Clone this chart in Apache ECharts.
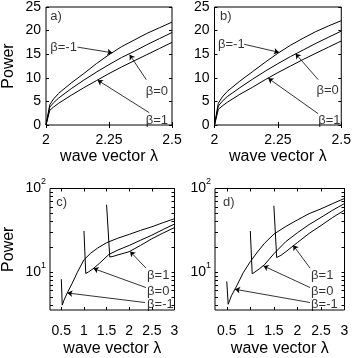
<!DOCTYPE html>
<html>
<head>
<meta charset="utf-8">
<script src="https://cdn.jsdelivr.net/npm/echarts@6/dist/echarts.min.js"></script>
<style>
html, body { margin: 0; padding: 0; background: #fff; }
#chart { width: 354px; height: 358px; }
</style>
</head>
<body>
<div id="chart"></div>
<script>
var FONT = '"Liberation Sans", Arial, Helvetica, sans-serif';

// panels a) and b): linear power vs wave vector
var lamAB = [2, 2.015, 2.03, 2.05, 2.1, 2.15, 2.2, 2.25, 2.3, 2.35, 2.4, 2.45, 2.5];
var powA_m1 = [0, 4.3, 5.5, 6.7, 8.9, 10.9, 13.0, 14.9, 16.6, 18.0, 19.4, 20.6, 21.8];
var powA_0  = [0, 3.8, 4.7, 5.7, 7.7, 9.5, 11.2, 12.8, 14.3, 15.6, 17.0, 18.3, 19.6];
var powA_1  = [0, 3.1, 3.8, 4.6, 6.3, 7.9, 9.4, 10.9, 12.3, 13.6, 14.9, 16.2, 17.5];
var powB_m1 = [0, 4.6, 5.9, 7.1, 9.3, 11.3, 13.3, 15.2, 16.9, 18.4, 19.8, 21.0, 22.1];
var powB_0  = [0, 4.0, 5.0, 6.0, 7.9, 9.7, 11.4, 13.0, 14.5, 15.9, 17.3, 18.6, 19.9];
var powB_1  = [0, 3.3, 4.0, 4.8, 6.5, 8.0, 9.6, 11.1, 12.5, 13.9, 15.2, 16.5, 17.8];

// panel c): log power
var lamC_m1 = [0.5, 0.52, 0.56, 0.63, 0.74, 0.85, 1.0, 1.15, 1.3, 1.5, 1.75, 2.0, 2.25, 2.5, 2.75, 3.0];
var powC_m1 = [8.2, 4.0, 4.6, 5.6, 7.3, 9.8, 14.0, 16.8, 19.3, 22.4, 25.4, 28.2, 31.5, 34.8, 39.0, 43.5];
var lamC_0 = [1.0, 1.04, 1.1, 1.2, 1.35, 1.55, 1.75, 2.0, 2.25, 2.5, 2.75, 3.0];
var powC_0 = [31, 9.6, 10.0, 10.9, 12.8, 16.2, 18.3, 20.8, 24.0, 27.6, 32.3, 37.5];
var lamC_1 = [1.5, 1.57, 1.65, 1.75, 2.0, 2.25, 2.5, 2.75, 3.0];
var powC_1 = [64, 15.1, 15.4, 16.0, 17.5, 20.8, 25.0, 29.3, 34.0];

// panel d): log power
var lamD_m1 = [0.5, 0.53, 0.6, 0.71, 0.85, 1.0, 1.15, 1.3, 1.5, 1.75, 2.0, 2.25, 2.5, 2.75, 3.0];
var powD_m1 = [7.7, 4.1, 5.2, 6.8, 9.8, 13.3, 17.3, 22.0, 28.4, 35.0, 42.0, 50.0, 57.0, 66.0, 76.0];
var lamD_0 = [1.0, 1.04, 1.1, 1.2, 1.3, 1.5, 1.75, 2.0, 2.25, 2.5, 2.75, 3.0];
var powD_0 = [31, 9.5, 10.0, 11.0, 12.2, 16.5, 23.0, 29.5, 37.0, 45.0, 55.0, 66.0];
var lamD_1 = [1.5, 1.56, 1.65, 1.75, 2.0, 2.25, 2.5, 2.75, 3.0];
var powD_1 = [62, 14.9, 15.8, 17.4, 22.5, 29.0, 36.0, 45.0, 55.0];

// axis ticks
var ticksLamCD = [0.5, 1, 1.5, 2, 2.5, 3];
var ticksLogMinor = [4, 5, 6, 7, 8, 9, 10, 20, 30, 40, 50, 60, 70, 80, 90, 100];
var ticksLogMajor = [10, 100];

// annotations: text labels [text, x, y] and arrows [[x1, y1], [x2, y2]]
var labelsA = [['a)', 2.017, 22.9], ['β=-1', 2.017, 16.5], ['β=0', 2.396, 7.1], ['β=1', 2.396, 1.0]];
var arrowsA = [[[2.125, 16.5], [2.263, 15.3]], [[2.398, 9.6], [2.332, 14.9]], [[2.41, 2.6], [2.205, 9.5]]];
var labelsB = [['b)', 2.022, 22.9], ['β=-1', 2.014, 17.0], ['β=0', 2.402, 7.4], ['β=1', 2.409, 1.0]];
var arrowsB = [[[2.117, 17.1], [2.254, 15.4]], [[2.409, 9.6], [2.32, 15.1]], [[2.409, 2.4], [2.212, 9.9]]];
var labelsC = [['c)', 0.39, 67.5], ['β=1', 2.395, 9.1], ['β=0', 2.395, 5.8], ['β=-1', 2.395, 4.1]];
var arrowsC = [[[2.37, 11.1], [2.02, 17.6]], [[2.37, 6.5], [1.21, 11.0]], [[2.35, 4.3], [0.635, 5.6]]];
var labelsD = [['d)', 0.42, 67.5], ['β=1', 2.29, 9.1], ['β=0', 2.29, 5.8], ['β=-1', 2.29, 4.1]];
var arrowsD = [[[2.27, 11.1], [1.91, 20.9]], [[2.27, 6.5], [1.28, 11.8]], [[2.27, 4.3], [0.675, 6.2]]];

function pairs(xs, ys) {
    return xs.map(function (x, i) { return [x, ys[i]]; });
}

var txt = { color: '#000', fontFamily: FONT };

function lineSeries(g, data) {
    return {
        type: 'line', xAxisIndex: 2 * g, yAxisIndex: 2 * g, data: data,
        showSymbol: false, symbol: 'none', silent: true,
        lineStyle: { color: '#000', width: 1 }
    };
}

function noteSeries(g, labels, arrows) {
    return {
        type: 'scatter', xAxisIndex: 2 * g, yAxisIndex: 2 * g, symbolSize: 0, silent: true,
        data: labels.map(function (l) { return { name: l[0], value: [l[1], l[2]] }; }),
        label: { show: true, formatter: '{b}', position: 'right', distance: 0, fontSize: 13, color: '#000', fontFamily: FONT },
        markLine: {
            silent: true, symbol: ['none', 'arrow'], symbolSize: 5, animation: false,
            label: { show: false },
            lineStyle: { type: 'solid', color: '#000', width: 0.8 },
            data: arrows.map(function (a) { return [{ coord: a[0] }, { coord: a[1] }]; })
        }
    };
}

function xAxisLin(g, pos) {
    return {
        type: 'value', gridIndex: g, position: pos, min: 2, max: 2.5, interval: 0.25,
        name: pos === 'bottom' ? 'wave vector λ' : '', nameLocation: 'middle', nameGap: 24,
        nameTextStyle: { fontSize: 16, color: '#000', fontFamily: FONT },
        axisLine: { show: false },
        axisTick: { inside: true, length: 3, lineStyle: { color: '#000' } },
        axisLabel: { show: pos === 'bottom', margin: 8, fontSize: 14, color: '#000', fontFamily: FONT, showMinLabel: true, showMaxLabel: true },
        splitLine: { show: false }
    };
}

function yAxisLin(g, pos) {
    return {
        type: 'value', gridIndex: g, position: pos, min: 0, max: 25, interval: 5,
        name: pos === 'left' && g === 0 ? 'Power' : '', nameLocation: 'middle', nameGap: 29,
        nameTextStyle: { fontSize: 16, color: '#000', fontFamily: FONT },
        axisLine: { show: false },
        axisTick: { inside: true, length: 3, lineStyle: { color: '#000' } },
        axisLabel: { show: pos === 'left', margin: 5, fontSize: 14, color: '#000', fontFamily: FONT },
        splitLine: { show: false }
    };
}

function xAxisLam(g, pos) {
    return {
        type: 'value', gridIndex: g, position: pos, min: 0.25, max: 3,
        name: pos === 'bottom' ? 'wave vector λ' : '', nameLocation: 'middle', nameGap: 31,
        nameTextStyle: { fontSize: 16, color: '#000', fontFamily: FONT },
        axisLine: { show: false },
        axisTick: { inside: true, length: 3, customValues: ticksLamCD, lineStyle: { color: '#000' } },
        axisLabel: { show: pos === 'bottom', customValues: ticksLamCD, margin: 14, fontSize: 14, color: '#000', fontFamily: FONT },
        splitLine: { show: false }
    };
}

function yAxisLog(g, pos) {
    return {
        type: 'log', logBase: 10, gridIndex: g, position: pos, min: 3.5, max: 100,
        name: pos === 'left' && g === 2 ? 'Power' : '', nameLocation: 'middle', nameGap: 33,
        nameTextStyle: { fontSize: 16, color: '#000', fontFamily: FONT },
        axisLine: { show: false },
        axisTick: { inside: true, length: 3, customValues: ticksLogMinor, lineStyle: { color: '#000' } },
        axisLabel: {
            show: pos === 'left', customValues: ticksLogMajor, margin: 4,
            formatter: function (v) {
                return '{b|10}{s|' + Math.round(Math.log(v) / Math.LN10) + '}';
            },
            rich: {
                b: { fontSize: 14, lineHeight: 22, color: '#000', fontFamily: FONT },
                s: { fontSize: 9, lineHeight: 10, verticalAlign: 'top', color: '#000', fontFamily: FONT }
            }
        },
        splitLine: { show: false }
    };
}

var gridBox = { show: true, borderColor: '#000', borderWidth: 1, backgroundColor: 'transparent', containLabel: false };

var option = {
    animation: false,
    backgroundColor: '#fff',
    textStyle: txt,
    grid: [
        Object.assign({ left: 45.5, top: 5, width: 126.5, height: 120 }, gridBox),
        Object.assign({ left: 214.5, top: 5, width: 131, height: 120 }, gridBox),
        Object.assign({ left: 49.5, top: 188.5, width: 125, height: 124 }, gridBox),
        Object.assign({ left: 215, top: 188.5, width: 129.5, height: 124 }, gridBox)
    ],
    xAxis: [
        xAxisLin(0, 'bottom'), xAxisLin(0, 'top'),
        xAxisLin(1, 'bottom'), xAxisLin(1, 'top'),
        xAxisLam(2, 'bottom'), xAxisLam(2, 'top'),
        xAxisLam(3, 'bottom'), xAxisLam(3, 'top')
    ],
    yAxis: [
        yAxisLin(0, 'left'), yAxisLin(0, 'right'),
        yAxisLin(1, 'left'), yAxisLin(1, 'right'),
        yAxisLog(2, 'left'), yAxisLog(2, 'right'),
        yAxisLog(3, 'left'), yAxisLog(3, 'right')
    ],
    series: [
        lineSeries(0, pairs(lamAB, powA_m1)),
        lineSeries(0, pairs(lamAB, powA_0)),
        lineSeries(0, pairs(lamAB, powA_1)),
        noteSeries(0, labelsA, arrowsA),
        lineSeries(1, pairs(lamAB, powB_m1)),
        lineSeries(1, pairs(lamAB, powB_0)),
        lineSeries(1, pairs(lamAB, powB_1)),
        noteSeries(1, labelsB, arrowsB),
        lineSeries(2, pairs(lamC_m1, powC_m1)),
        lineSeries(2, pairs(lamC_0, powC_0)),
        lineSeries(2, pairs(lamC_1, powC_1)),
        noteSeries(2, labelsC, arrowsC),
        lineSeries(3, pairs(lamD_m1, powD_m1)),
        lineSeries(3, pairs(lamD_0, powD_0)),
        lineSeries(3, pairs(lamD_1, powD_1)),
        noteSeries(3, labelsD, arrowsD)
    ]
};

var chart = echarts.init(document.getElementById('chart'), null, { renderer: 'canvas' });
chart.setOption(option);
</script>
</body>
</html>
